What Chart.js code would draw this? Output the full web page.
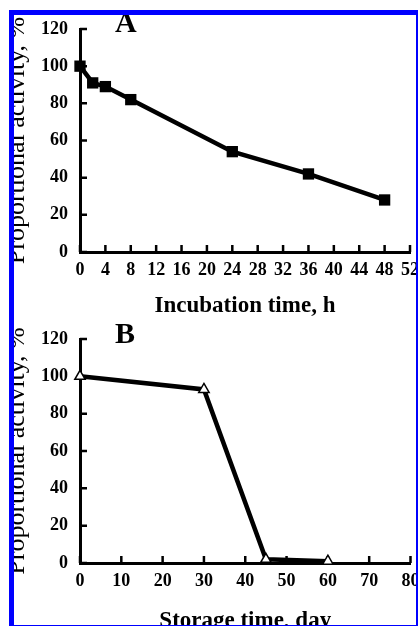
<!DOCTYPE html>
<html>
<head>
<meta charset="utf-8">
<script src="https://cdn.jsdelivr.net/npm/chart.js@4.4.0/dist/chart.umd.min.js"></script>
<style>
  html, body { margin: 0; padding: 0; background: #fff; overflow: hidden; }
  body { width: 418px; height: 627px; position: relative; }
  #frame { position: absolute; left: 9px; top: 10px; width: 409px; height: 616px; overflow: hidden; }
  #frame::after {
    content: ''; position: absolute; left: 0; top: 0; right: 0; bottom: 0;
    box-sizing: border-box; border-style: solid; border-color: #0000ff;
    border-width: 5px 2px 1px 5px; z-index: 5;
  }
  canvas { position: absolute; left: -9px; }
  #chartA { top: -10px; }
  #chartB { top: 310px; }
  .panel {
    position: absolute; font: bold 30px/30px "Liberation Serif", "Times New Roman", serif;
    color: #000;
  }
</style>
</head>
<body>
<div id="frame">
  <canvas id="chartA" width="418" height="320"></canvas>
  <canvas id="chartB" width="418" height="315"></canvas>
  <div class="panel" style="left:106px; top:-3px;">A</div>
  <div class="panel" style="left:106px; top:308px;">B</div>
</div>
<script>
// panel A: activity vs incubation time
const hoursA = [0, 2, 4, 8, 24, 36, 48];
const activityA = [100, 91, 89, 82, 54, 42, 28];

// panel B: activity vs storage time
const daysB = [0, 30, 45, 60];
const activityB = [100, 93, 2, 1];

const yTicks = [0, 20, 40, 60, 80, 100, 120];
const xTicksA = [0, 4, 8, 12, 16, 20, 24, 28, 32, 36, 40, 44, 48, 52];
const xTicksB = [0, 10, 20, 30, 40, 50, 60, 70, 80];

const serif = '"Liberation Serif", "Times New Roman", serif';

// tick marks drawn inside the plot, like the original figure
const innerTicks = {
  id: 'innerTicks',
  beforeDatasetsDraw(chart) {
    const { ctx, chartArea, scales: { x, y } } = chart;
    ctx.save();
    ctx.strokeStyle = '#000';
    ctx.lineWidth = 2.5;
    ctx.beginPath();
    x.ticks.forEach(t => {
      const px = x.getPixelForValue(t.value);
      ctx.moveTo(px, chartArea.bottom);
      ctx.lineTo(px, chartArea.bottom - 7);
    });
    y.ticks.forEach(t => {
      const py = y.getPixelForValue(t.value);
      ctx.moveTo(chartArea.left, py);
      ctx.lineTo(chartArea.left + 7, py);
    });
    ctx.stroke();
    ctx.restore();
  }
};

function makeChart(id, xs, ys, xTicks, xTitle, opts) {
  const ctx = document.getElementById(id).getContext('2d');
  return new Chart(ctx, {
    type: 'line',
    data: {
      datasets: [{
        data: xs.map((v, i) => ({ x: v, y: ys[i] })),
        borderColor: '#000',
        borderWidth: 4.5,
        tension: 0,
        clip: false,
        pointStyle: opts.pointStyle,
        pointRadius: opts.pointRadius,
        pointBackgroundColor: opts.pointFill,
        pointBorderColor: '#000',
        pointBorderWidth: opts.pointBorder
      }]
    },
    options: {
      responsive: false,
      animation: false,
      devicePixelRatio: 1,
      layout: { padding: { top: opts.top, right: opts.right, left: 0, bottom: 0 } },
      plugins: { legend: { display: false }, tooltip: { enabled: false } },
      scales: {
        x: {
          type: 'linear',
          min: xTicks[0],
          max: xTicks[xTicks.length - 1],
          afterBuildTicks: s => { s.ticks = xTicks.map(v => ({ value: v })); },
          afterFit: s => { s.height = opts.xHeight; s.paddingLeft = 0; s.paddingRight = 0; },
          grid: { display: true, drawOnChartArea: false, drawTicks: false },
          border: { display: true, color: '#000', width: 3 },
          ticks: {
            autoSkip: false, maxRotation: 0, padding: 8, color: '#000',
            font: { family: serif, size: 18, weight: 'bold' }
          },
          title: {
            display: true, text: xTitle, color: '#000',
            padding: { top: 0, bottom: 0 },
            font: { family: serif, size: 23, weight: 'bold' }
          }
        },
        y: {
          min: 0,
          max: 120,
          afterBuildTicks: s => { s.ticks = yTicks.map(v => ({ value: v })); },
          afterFit: s => { s.width = 80; s.paddingTop = 0; s.paddingBottom = 0; },
          grid: { display: true, drawOnChartArea: false, drawTicks: false },
          border: { display: true, color: '#000', width: 3 },
          ticks: {
            padding: 12, color: '#000',
            font: { family: serif, size: 18, weight: 'bold' }
          },
          title: {
            display: true, text: 'Proportional activity, %', color: '#000',
            padding: { top: 2, bottom: 0 },
            font: { family: serif, size: 26, weight: 'normal' }
          }
        }
      }
    },
    plugins: [innerTicks]
  });
}

makeChart('chartA', hoursA, activityA, xTicksA, 'Incubation time, h', {
  top: 29, right: 2, xHeight: 68,
  pointStyle: 'rect', pointRadius: 8, pointFill: '#000', pointBorder: 0
});

makeChart('chartB', daysB, activityB, xTicksB, 'Storage time, day', {
  top: 19, right: 3, xHeight: 72,
  pointStyle: 'triangle', pointRadius: 6, pointFill: '#fff', pointBorder: 1.5
});
</script>
</body>
</html>
